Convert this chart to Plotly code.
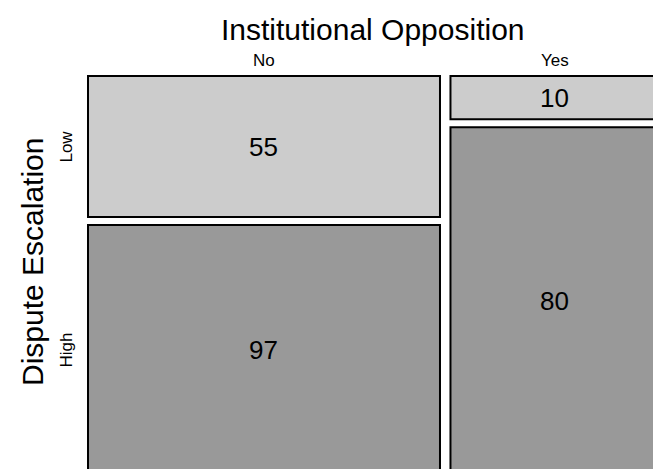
import plotly.graph_objects as go

# Data
col_labels = ["No", "Yes"]          # Institutional Opposition
row_labels = ["Low", "High"]        # Dispute Escalation
counts = {
    "No": [55, 97],
    "Yes": [10, 80],
}
x_title = "Institutional Opposition"
y_title = "Dispute Escalation"

fill_colors = ["#cccccc", "#999999"]
gap_x = 0.0187
gap_y = 0.0205

col_totals = [sum(counts[c]) for c in col_labels]
grand = sum(col_totals)

fig = go.Figure()
shapes = []
annotations = []

x0 = 0.0
for ci, c in enumerate(col_labels):
    w = col_totals[ci] / grand
    x1 = x0 + w
    y0 = 0.0
    for ri, r in enumerate(row_labels):
        h = counts[c][ri] / col_totals[ci]
        y1 = y0 + h
        shapes.append(dict(type="rect", xref="x", yref="y", x0=x0, x1=x1, y0=y0, y1=y1,
                           fillcolor=fill_colors[ri], line=dict(color="black", width=2)))
        annotations.append(dict(x=(x0 + x1) / 2, y=(y0 + y1) / 2, xref="x", yref="y",
                                text=str(counts[c][ri]), showarrow=False,
                                font=dict(size=26, color="black")))
        y0 = y1 + gap_y
    annotations.append(dict(x=(x0 + x1) / 2, y=-0.0385, xref="x", yref="y", text=c,
                            showarrow=False,
                            font=dict(size=17, color="black")))
    x0 = x1 + gap_x

# row labels (positions from first column)
first = col_labels[0]
y0 = 0.0
for ri, r in enumerate(row_labels):
    h = counts[first][ri] / col_totals[0]
    annotations.append(dict(x=-0.0375, y=y0 + h / 2, xref="x", yref="y", text=r,
                            showarrow=False, textangle=-90,
                            font=dict(size=17, color="black")))
    y0 += h + gap_y

annotations.append(dict(x=(1 + gap_x) / 2, y=-0.118, xref="x", yref="y", text=x_title,
                        showarrow=False,
                        font=dict(size=30, color="black")))
annotations.append(dict(x=-0.1, y=0.477, xref="x", yref="y", text=y_title,
                        showarrow=False, textangle=-90,
                        font=dict(size=30, color="black")))

# invisible trace to anchor axes
fig.add_trace(go.Scatter(x=[0, 1], y=[0, 1], mode="markers", marker=dict(opacity=0),
                         hoverinfo="skip", showlegend=False))

W, H = 653, 469
fig.update_layout(
    width=W, height=H,
    margin=dict(l=0, r=0, t=0, b=0),
    paper_bgcolor="white", plot_bgcolor="white",
    font=dict(family="Liberation Sans, Arial, sans-serif", color="black"),
    shapes=shapes, annotations=annotations,
    xaxis=dict(range=[-88 / 560.4, (W - 88) / 560.4], visible=False, fixedrange=True),
    yaxis=dict(range=[(H - 76) / 390, -76 / 390], visible=False, fixedrange=True),
    showlegend=False,
    hovermode=False,
)

fig.write_html(
    "out.html",
    config={"displayModeBar": False, "staticPlot": True},
    post_script="document.body.style.margin='0';document.body.style.overflow='hidden';",
)
